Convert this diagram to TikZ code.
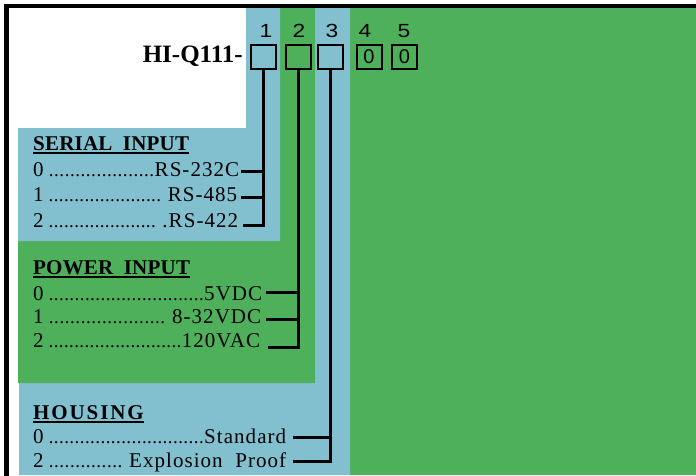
\documentclass[tikz,border=0pt]{standalone}
\usepackage{fontspec}
\setmainfont{Liberation Serif}
\newfontfamily\sansf{Liberation Sans}
\newfontfamily\sanswf[FakeStretch=1.2]{Liberation Sans}
\newfontfamily\bodyf[LetterSpace=5]{Liberation Serif}
\newfontfamily\headf[LetterSpace=1]{Liberation Serif}
\newfontfamily\headwf[LetterSpace=9]{Liberation Serif}
\newcommand\dotlead{\xleaders\hbox to 5.1pt{\rmfamily\fontsize{19}{20}\selectfont.\hss}\hfill}
\definecolor{cblue}{RGB}{130,191,207}
\definecolor{cgreen}{RGB}{78,176,91}
\tikzset{
  codebox/.style={draw, line width=2pt, minimum width=25pt, minimum height=24pt, inner sep=0pt, font=\sansf\fontsize{20}{20}\selectfont},
  poslabel/.style={inner sep=0pt, anchor=base, font=\sanswf\fontsize{19}{19}\selectfont},
  rowtext/.style={inner sep=0pt, anchor=base west, font=\bodyf\fontsize{21}{22}\selectfont},
  head/.style={inner sep=0pt, anchor=base west, font=\headf\bfseries\fontsize{21}{22}\selectfont},
  headw/.style={inner sep=0pt, anchor=base west, font=\headwf\bfseries\fontsize{21}{22}\selectfont},
  bus/.style={line width=3pt},
  uline/.style={line width=2pt}
}
\begin{document}
\begin{tikzpicture}[x=1pt,y=-1pt]
\useasboundingbox (0,0) rectangle (696,475);
\fill[white] (0,0) rectangle (696,475);
% coloured regions
\fill[cgreen] (350,8) rectangle (696,475);
\fill[cblue] (315,8) -- (350,8) -- (350,475) -- (19,475) -- (19,383) -- (315,383) -- cycle;
\fill[cgreen] (280,8) -- (315,8) -- (315,383) -- (18,383) -- (18,241) -- (280,241) -- cycle;
\fill[cblue] (246,8) -- (280,8) -- (280,241) -- (18,241) -- (18,128) -- (246,128) -- cycle;
% frame
\draw[line width=4.5pt] (6.4,480) -- (6.4,6.2) -- (700,6.2);
% title and code boxes
\node[inner sep=0pt, anchor=base east, font=\bfseries\fontsize{25}{25}\selectfont] (title) at (243,62.5) {HI-Q111-};
\node[codebox] (b1) at (263.5,57) {};
\node[codebox] (b2) at (298.5,57) {};
\node[codebox] (b3) at (330.5,57) {};
\node[codebox] (b4) at (369,56.5) {0};
\node[codebox] (b5) at (404.5,56.5) {0};
\node[poslabel] (p1) at (266,37.3) {1};
\node[poslabel] (p2) at (299,37.3) {2};
\node[poslabel] (p3) at (332,37.3) {3};
\node[poslabel] (p4) at (365,37.3) {4};
\node[poslabel] (p5) at (404,37.3) {5};
% serial input
\node[head] (h1) at (33,150) {SERIAL\hspace{0.5em}INPUT};
\draw[uline] ([yshift=-2.5pt]h1.base west) -- ([yshift=-2.5pt]h1.base east);
\node[rowtext] (s1) at (33,176) {\hbox to 206pt{0\hspace{5pt}\dotlead RS-232C}};
\node[rowtext] (s2) at (33,201.5) {\hbox to 204pt{1\hspace{5pt}\dotlead\ RS-485}};
\node[rowtext] (s3) at (33,227) {\hbox to 205pt{2\hspace{5pt}\dotlead\ .RS-422}};
\coordinate (ts1) at (241,171.7);
\coordinate (ts2) at (241,197);
\coordinate (ts3) at (243,225);
\draw[bus] (b1.south) |- (ts3);
\draw[bus] (ts1) -- (ts1 -| b1.south);
\draw[bus] (ts2) -- (ts2 -| b1.south);
% power input
\node[head] (h2) at (33,274.3) {POWER\hspace{0.5em}INPUT};
\draw[uline] ([yshift=-2.5pt]h2.base west) -- ([yshift=-2.5pt]h2.base east);
\node[rowtext] (q1) at (33,300) {\hbox to 229pt{0\hspace{5pt}\dotlead 5VDC}};
\node[rowtext] (q2) at (33,323) {\hbox to 228pt{1\hspace{5pt}\dotlead\ 8-32VDC}};
\node[rowtext] (q3) at (33,347) {\hbox to 227pt{2\hspace{5pt}\dotlead 120VAC}};
\coordinate (tq1) at (266,292);
\coordinate (tq2) at (266,319);
\coordinate (tq3) at (268,347);
\draw[bus] (b2.south) |- (tq3);
\draw[bus] (tq1) -- (tq1 -| b2.south);
\draw[bus] (tq2) -- (tq2 -| b2.south);
% housing
\node[headw] (h3) at (33,419.3) {HOUSING};
\draw[uline] ([yshift=-2.5pt]h3.base west) -- ([yshift=-2.5pt]h3.base east);
\node[rowtext] (r1) at (33,443) {\hbox to 253pt{0\hspace{5pt}\dotlead Standard}};
\node[rowtext] (r2) at (33,467) {\hbox to 253pt{2\hspace{5pt}\dotlead\ Explosion\hspace{0.6em}Proof}};
\coordinate (tr1) at (293,437);
\coordinate (tr2) at (293,461);
\draw[bus] (b3.south) |- (tr2);
\draw[bus] (tr1) -- (tr1 -| b3.south);
\end{tikzpicture}
\end{document}
